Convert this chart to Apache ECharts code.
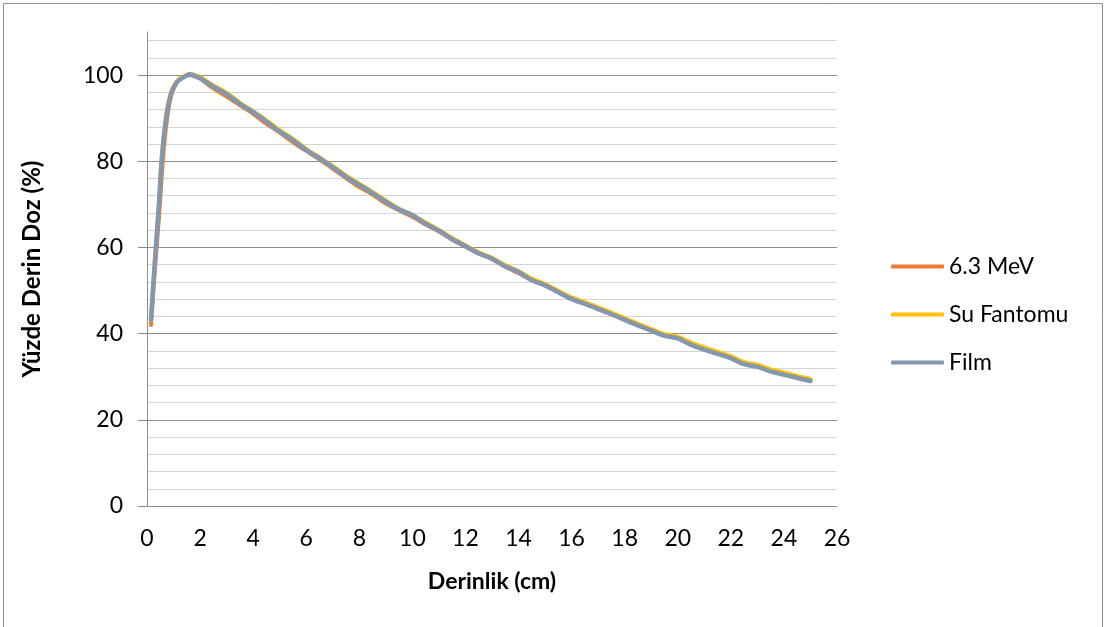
<!DOCTYPE html>
<html>
<head>
<meta charset="utf-8">
<script src="https://cdn.jsdelivr.net/npm/echarts@6/dist/echarts.min.js"></script>
<style>
  html, body { margin: 0; padding: 0; background: #ffffff; }
  #chart { width: 1104px; height: 627px; }
</style>
</head>
<body>
<div id="chart"></div>
<script>
// Percentage depth dose curves (depth in cm)
const depth = [0.15, 0.3, 0.45, 0.55, 0.65, 0.77, 0.9, 1.0, 1.15, 1.3, 1.45, 1.6, 1.8,
  2.0, 2.5, 3.0, 3.5, 4.0, 4.5, 5.0, 5.5, 6.0, 6.5, 7.0, 7.5, 8.0, 8.5, 9.0, 9.5,
  10.0, 10.5, 11.0, 11.5, 12.0, 12.5, 13.0, 13.5, 14.0, 14.5, 15.0, 15.5, 16.0, 16.5,
  17.0, 17.5, 18.0, 18.5, 19.0, 19.5, 20.0, 20.5, 21.0, 21.5, 22.0, 22.5, 23.0, 23.5,
  24.0, 24.5, 25.0];

const mev63 = [42.0, 55, 67, 76, 84, 90.5, 95, 96.8, 98.6, 99.3, 99.8, 100.0, 99.7,
  99.2, 96.9, 95.0, 93.0, 91.0, 88.7, 86.7, 84.4, 82.4, 80.4, 78.3, 76.1, 74.0, 72.3, 70.2, 68.6,
  67.1, 65.3, 63.7, 61.8, 60.2, 58.6, 57.3, 55.5, 54.0, 52.5, 51.2, 49.6, 48.1, 46.9,
  45.8, 44.5, 43.3, 42.0, 40.8, 39.6, 39.0, 37.6, 36.5, 35.5, 34.5, 33.1, 32.5, 31.4,
  30.7, 29.9, 29.2];

const suFantomu = [43.5, 57.5, 70.5, 80.5, 87, 92.5, 96, 97.4, 98.8, 99.5, 99.9, 100.3, 100.0,
  99.6, 97.6, 95.9, 93.6, 91.6, 89.5, 87.2, 85.2, 82.9, 80.9, 78.9, 76.7, 74.8, 72.9, 70.9, 69.0,
  67.6, 65.8, 64.1, 62.2, 60.5, 58.9, 57.6, 55.9, 54.5, 52.8, 51.5, 50.0, 48.4, 47.3,
  46.1, 44.9, 43.6, 42.3, 41.1, 39.9, 39.3, 37.9, 36.8, 35.8, 34.8, 33.4, 32.8, 31.7,
  31.0, 30.2, 29.5];

const film = [43.2, 57, 70, 80, 86.5, 92, 95.5, 97, 98.5, 99.2, 99.7, 100.2, 99.8,
  99.3, 97.3, 95.6, 93.3, 91.4, 89.2, 86.9, 84.9, 82.6, 80.7, 78.6, 76.4, 74.5, 72.6, 70.6, 68.8,
  67.5, 65.5, 63.9, 61.9, 60.3, 58.6, 57.4, 55.6, 54.3, 52.4, 51.2, 49.6, 48.0, 46.9,
  45.7, 44.5, 43.2, 41.9, 40.7, 39.5, 38.9, 37.4, 36.3, 35.3, 34.3, 32.9, 32.3, 31.2,
  30.5, 29.7, 29.0];

const seriesNames = ['6.3 MeV', 'Su Fantomu', 'Film'];
const seriesColors = ['#ED7D31', '#FFC000', '#8497B0'];
const seriesValues = [mev63, suFantomu, film];

const FONT = 'Lato, "Open Sans", sans-serif';

const pairs = (ys) => depth.map((x, i) => [x, ys[i]]);

const chart = echarts.init(document.getElementById('chart'), null, { renderer: 'canvas' });

chart.setOption({
  animation: false,
  backgroundColor: '#ffffff',
  graphic: [{
    type: 'rect',
    shape: { x: 3.5, y: 3.5, width: 1099, height: 700 },
    style: { fill: 'none', stroke: '#8c8c8c', lineWidth: 1 },
    silent: true
  }],
  grid: { left: 147, right: 267, top: 32, bottom: 121, containLabel: false },
  legend: {
    orient: 'vertical',
    left: 886,
    top: 250,
    itemWidth: 53,
    itemHeight: 4,
    itemGap: 25,
    icon: 'roundRect',
    textStyle: { fontFamily: FONT, fontSize: 23, color: '#000000' },
    data: seriesNames
  },
  xAxis: {
    type: 'value',
    min: 0, max: 26, interval: 2,
    name: 'Derinlik (cm)',
    nameLocation: 'middle',
    nameGap: 64,
    nameTextStyle: { fontFamily: FONT, fontSize: 23, fontWeight: 'bold', color: '#000000' },
    axisLine: { show: false },
    axisTick: { show: false },
    splitLine: { show: false },
    axisLabel: { fontFamily: FONT, fontSize: 23, color: '#000000', margin: 21 }
  },
  yAxis: [{
    // major scale: labels, ticks and darker gridlines every 20
    type: 'value',
    min: 0, max: 110, interval: 20,
    name: 'Yüzde Derin Doz (%)',
    nameLocation: 'middle',
    nameGap: 103,
    nameTextStyle: { fontFamily: FONT, fontSize: 24, fontWeight: 'bold', color: '#000000' },
    axisLine: { show: true, lineStyle: { color: '#8c8c8c', width: 1 } },
    axisTick: { show: true, length: 9, lineStyle: { color: '#8c8c8c' } },
    splitLine: { show: true, showMaxLine: false, lineStyle: { color: '#8c8c8c', width: 1 } },
    axisLabel: {
      fontFamily: FONT, fontSize: 23, color: '#000000', margin: 24,
      showMaxLabel: false,
      formatter: (v) => (v % 20 === 0 ? String(v) : '')
    }
  }, {
    // minor scale: light gridlines every 4
    type: 'value',
    min: 0, max: 110, interval: 4,
    position: 'left',
    axisLine: { show: false },
    axisTick: { show: false },
    axisLabel: { show: false },
    splitLine: {
      show: true, showMaxLine: false,
      lineStyle: { color: ['rgba(0,0,0,0)', '#d4d4d4', '#d4d4d4', '#d4d4d4', '#d4d4d4'], width: 1 }
    }
  }],
  series: seriesNames.map((name, i) => ({
    name: name,
    type: 'line',
    yAxisIndex: 0,
    data: pairs(seriesValues[i]),
    showSymbol: false,
    symbol: 'none',
    smooth: 0.3,
    z: 3 + i,
    lineStyle: { color: seriesColors[i], width: i === 2 ? 4.5 : 4, cap: 'round', join: 'round' },
    itemStyle: { color: seriesColors[i] }
  }))
});
</script>
</body>
</html>
